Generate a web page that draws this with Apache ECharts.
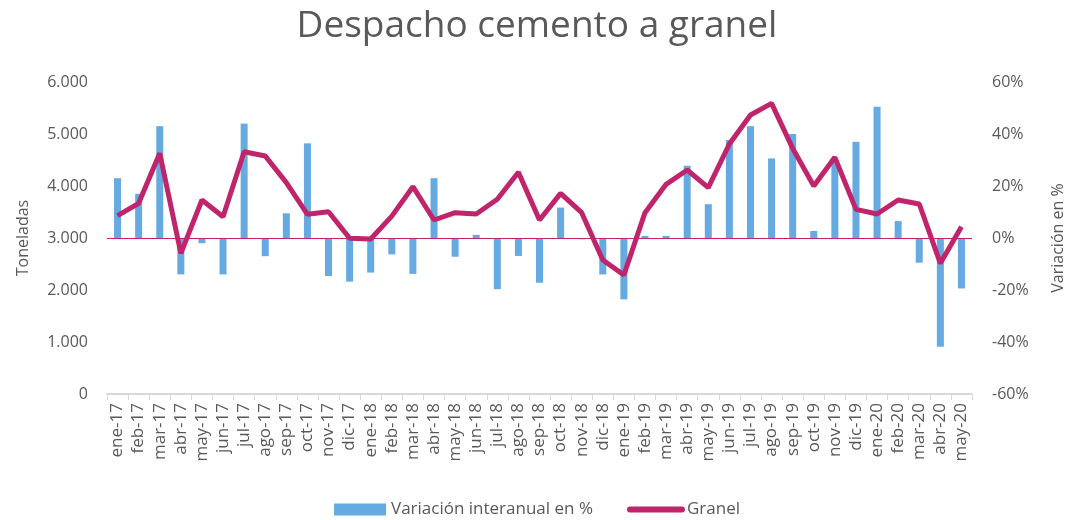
<!DOCTYPE html>
<html>
<head>
<meta charset="utf-8">
<script src="https://cdn.jsdelivr.net/npm/echarts@6/dist/echarts.min.js"></script>
<style>
  html, body { margin: 0; padding: 0; background: #fff; }
  #chart { width: 1074px; height: 520px; }
</style>
</head>
<body>
<div id="chart"></div>
<script>
//--------------------- Data ---------------------------//
const months = [
  'ene-17', 'feb-17', 'mar-17', 'abr-17', 'may-17', 'jun-17', 'jul-17', 'ago-17', 'sep-17', 'oct-17', 'nov-17', 'dic-17',
  'ene-18', 'feb-18', 'mar-18', 'abr-18', 'may-18', 'jun-18', 'jul-18', 'ago-18', 'sep-18', 'oct-18', 'nov-18', 'dic-18',
  'ene-19', 'feb-19', 'mar-19', 'abr-19', 'may-19', 'jun-19', 'jul-19', 'ago-19', 'sep-19', 'oct-19', 'nov-19', 'dic-19',
  'ene-20', 'feb-20', 'mar-20', 'abr-20', 'may-20'
];

// Variación interanual en % (right axis)
const variacion = [
  23, 17, 43, -14, -2, -14, 44, -7, 9.5, 36.4, -14.6, -16.8,
  -13.3, -6.3, -13.8, 23, -7.2, 1.2, -19.7, -6.9, -17.2, 11.7, -0.5, -14,
  -23.6, 0.8, 0.8, 27.8, 13, 37.7, 43, 30.6, 40, 2.7, 30, 37,
  50.5, 6.5, -9.5, -41.8, -19.4
];

// Granel, toneladas (left axis)
const granel = [
  3430, 3667, 4630, 2705, 3731, 3410, 4660, 4577, 4064, 3455, 3506, 2994,
  2981, 3420, 3987, 3346, 3487, 3462, 3744, 4263, 3346, 3859, 3487, 2577,
  2288, 3487, 4032, 4308, 3968, 4808, 5365, 5590, 4724, 4000, 4551, 3551,
  3462, 3731, 3654, 2513, 3218
];

//--------------------- Chart ---------------------------//
const textColor = '#595959';
const fontFamily = '"Open Sans", "Noto Sans", sans-serif';

const chartDom = document.getElementById('chart');
const myChart = echarts.init(chartDom);

const option = {
  animation: false,
  textStyle: { fontFamily: fontFamily, color: textColor },
  title: {
    text: 'Despacho cemento a granel',
    left: 'center',
    top: 3,
    textStyle: { fontSize: 37, fontWeight: 'normal', color: textColor, fontFamily: fontFamily }
  },
  legend: {
    bottom: -3,
    left: 'center',
    itemGap: 34,
    itemWidth: 52,
    itemHeight: 12,
    textStyle: { fontSize: 17, color: textColor },
    data: [
      { name: 'Variación interanual en %', icon: 'rect' },
      { name: 'Granel', itemStyle: { opacity: 0 }, lineStyle: { width: 6, cap: 'round' } }
    ]
  },
  grid: { left: 107, right: 95, top: 82, bottom: 126 },
  xAxis: {
    type: 'category',
    data: months,
    axisLine: { lineStyle: { color: '#d9d9d9', width: 2 } },
    axisTick: { show: true, length: 6, lineStyle: { color: '#d9d9d9' } },
    axisLabel: { rotate: 90, fontSize: 17, color: textColor, margin: 9, interval: 0 }
  },
  yAxis: [
    {
      type: 'value',
      min: 0,
      max: 6000,
      interval: 1000,
      name: 'Toneladas',
      nameLocation: 'middle',
      nameGap: 76,
      nameTextStyle: { fontSize: 16, color: textColor },
      splitLine: { show: false },
      axisLine: { show: false },
      axisLabel: {
        fontSize: 16,
        color: textColor,
        margin: 19,
        formatter: (v) => v.toString().replace(/\B(?=(\d{3})+(?!\d))/g, '.')
      }
    },
    {
      type: 'value',
      min: -60,
      max: 60,
      interval: 20,
      name: 'Variación en %',
      nameLocation: 'middle',
      nameGap: 78,
      nameRotate: 90,
      nameTextStyle: { fontSize: 16, color: textColor },
      splitLine: { show: false },
      axisLine: { show: false },
      axisLabel: { fontSize: 16, color: textColor, margin: 20, formatter: '{value}%' }
    }
  ],
  series: [
    {
      name: 'Variación interanual en %',
      type: 'bar',
      yAxisIndex: 1,
      data: variacion,
      barWidth: 7,
      itemStyle: { color: '#65aae0' },
      markLine: {
        silent: true,
        symbol: 'none',
        label: { show: false },
        lineStyle: { color: '#c0246b', width: 1, type: 'solid' },
        data: [{ yAxis: 0 }]
      }
    },
    {
      name: 'Granel',
      type: 'line',
      yAxisIndex: 0,
      data: granel,
      symbol: 'none',
      lineStyle: { color: '#c0246b', width: 5 },
      itemStyle: { color: '#c0246b' }
    }
  ]
};

option && myChart.setOption(option);
</script>
</body>
</html>
